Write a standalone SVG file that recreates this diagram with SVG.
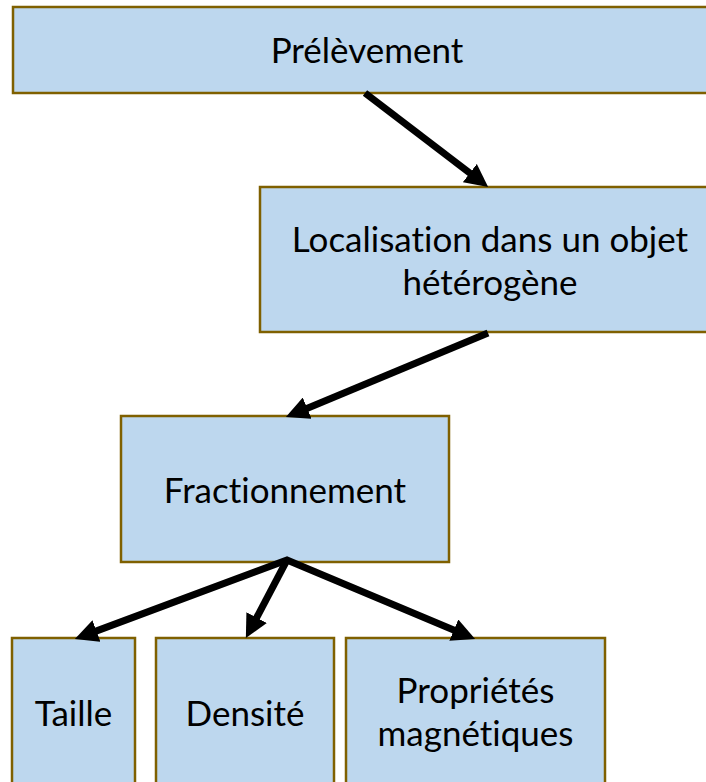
<svg xmlns="http://www.w3.org/2000/svg" width="706" height="782" viewBox="0 0 706 782">
  <style>
    .box { fill: #BDD7EE; stroke: #7F6000; stroke-width: 2.5; }
    .lbl { font-family: Lato, "Liberation Sans", sans-serif; font-size: 35px; fill: #000000; text-anchor: middle; font-variant-ligatures: none; }
    .arrow { fill: none; stroke: #000000; stroke-width: 7; stroke-linejoin: miter; stroke-miterlimit: 10; }
  </style>
  <defs>
    <marker id="head" viewBox="0 0 10 10" refX="3" refY="5" markerWidth="3.3" markerHeight="3.3" markerUnits="strokeWidth" orient="auto-start-reverse">
      <path d="M0,0 L10,5 L0,10 z" fill="#000000"/>
    </marker>
  </defs>

  <rect width="706" height="782" fill="#FFFFFF"/>

  <g id="node-prelevement">
    <rect class="box" x="13" y="7" width="708" height="86"/>
    <text class="lbl" x="367" y="63">Prélèvement</text>
  </g>

  <g id="node-localisation">
    <rect class="box" x="260" y="187" width="460" height="145"/>
    <text class="lbl" x="490" y="252">Localisation dans un objet</text>
    <text class="lbl" x="490" y="295">hétérogène</text>
  </g>

  <g id="node-fractionnement">
    <rect class="box" x="121" y="416" width="328" height="146"/>
    <text class="lbl" x="285" y="503">Fractionnement</text>
  </g>

  <g id="node-taille">
    <rect class="box" x="12" y="638" width="123" height="160"/>
    <text class="lbl" x="73.5" y="726">Taille</text>
  </g>

  <g id="node-densite">
    <rect class="box" x="156" y="638" width="178" height="160"/>
    <text class="lbl" x="245" y="726">Densité</text>
  </g>

  <g id="node-proprietes">
    <rect class="box" x="346" y="638" width="259" height="160"/>
    <text class="lbl" x="475.5" y="703">Propriétés</text>
    <text class="lbl" x="475.5" y="746">magnétiques</text>
  </g>

  <g id="connectors">
    <path class="arrow" d="M365,93 L475.3,177.3" marker-end="url(#head)"/>
    <path class="arrow" d="M488,333 L300.8,410.9" marker-end="url(#head)"/>
    <path class="arrow" d="M90,633.4 L287,560 L460.2,632.8" marker-start="url(#head)" marker-end="url(#head)"/>
    <path class="arrow" d="M287,560 L253.4,623.8" marker-end="url(#head)"/>
  </g>
</svg>
